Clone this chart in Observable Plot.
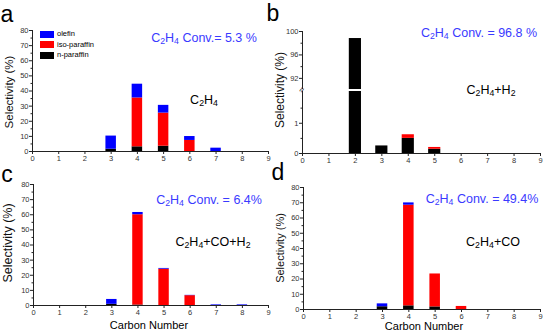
<!DOCTYPE html>
<html><head><meta charset="utf-8">
<script src="https://cdn.jsdelivr.net/npm/d3@7"></script>
<script src="https://cdn.jsdelivr.net/npm/@observablehq/plot@0.6"></script>
<style>
body{margin:0;background:#fff;}
#root{position:relative;width:544px;height:333px;overflow:hidden;font-family:"Liberation Sans",Arial,sans-serif;background:#fff;}
.panel{position:absolute;}
.t{position:absolute;white-space:nowrap;line-height:1;width:max-content;}
.t sub{font-size:0.7em;vertical-align:-0.3em;line-height:0;}
.c{transform:translate(-50%,-50%);}
.blue{color:#3a3aff;}
.sw{display:inline-block;width:14px;height:7px;margin-right:3px;vertical-align:middle;}
</style></head><body><div id="root"></div>
<script>
// ---- data ----
const carbon = [1, 2, 3, 4, 5, 6, 7, 8];
const series = ["n-paraffin", "iso-paraffin", "olefin"];
const seriesColors = ["#000000", "#ff0000", "#0000ff"];
const legendOrder = ["olefin", "iso-paraffin", "n-paraffin"];
const xTicks = [0, 1, 2, 3, 4, 5, 6, 7, 8, 9];
const yTicks80 = [0, 10, 20, 30, 40, 50, 60, 70, 80];
const yMinor80 = [5, 15, 25, 35, 45, 55, 65, 75];
const bTicksLow = [0, 1];
const bMinorLow = [0.5, 1.5];
const bTicksHigh = [92, 96, 100];
const bMinorHigh = [94, 98];
const bLowDomain = [0, 2.05];
const bHighDomain = [90.1, 100];

// panel a: C2H4
const aN   = [0, 0, 1.5, 3.1, 3.5, 0,   0,   0];
const aIso = [0, 0, 0,  32.3, 21.9, 7.3, 0,   0];
const aOle = [0, 0, 8.7, 9.1, 5.1, 2.6, 2.2, 0];
// panel b: C2H4+H2
const bN   = [0, 98.8, 0.25, 0.5, 0.14, 0, 0, 0];
const bIso = [0, 0,    0,    0.12, 0.06, 0, 0, 0];
const bOle = [0, 0,    0,    0,    0,    0, 0, 0];
// panel c: C2H4+CO+H2
const cN   = [0, 0, 0.8, 0.3, 0,  0,   0,   0];
const cIso = [0, 0, 0,  59.7, 24, 6.5, 0,   0];
const cOle = [0, 0, 3.2, 1.5, 0.5, 0.2, 0.4, 0.4];
// panel d: C2H4+CO
const dN   = [0, 0, 1.8, 2.4, 1.7, 0, 0, 0];
const dIso = [0, 0, 0,  66,  21.6, 2, 0, 0];
const dOle = [0, 0, 1.9, 1.5, 0,  0, 0, 0];

const root = document.getElementById("root");
const FONT = '"Liberation Sans", Arial, sans-serif';
const fmt = d => String(d);

function rows(n, iso, ole) {
  const out = [];
  carbon.forEach((c, i) => {
    [n[i], iso[i], ole[i]].forEach((v, k) => { if (v > 0) out.push({c, v, s: series[k]}); });
  });
  return out;
}

function panel(cfg) {
  const data = rows(cfg.n, cfg.iso, cfg.ole);
  const hw = cfg.hw;
  const marks = [
    Plot.rect(data, Plot.stackY({x: "c", x1: d => d.c - hw, x2: d => d.c + hw, y: "v", fill: "s", clip: true})),
    Plot.ruleX([0], {stroke: "#222", strokeWidth: 1}),
    Plot.axisY({ticks: cfg.ticks, tickSize: 3, tickPadding: 1, fontSize: 7.5, label: null, tickFormat: fmt, stroke: "#222", fill: "#333"}),
    Plot.axisY({ticks: cfg.minor, tickSize: 1.5, tickFormat: () => "", label: null, stroke: "#222"})
  ];
  if (!cfg.noX) {
    marks.push(
      Plot.ruleY([cfg.yDomain[0]], {stroke: "#222", strokeWidth: 1}),
      Plot.axisX({ticks: xTicks, tickSize: 3, tickPadding: 1, fontSize: 7.5, label: null, tickFormat: fmt, stroke: "#222", fill: "#333"})
    );
  }
  const svg = Plot.plot({
    width: cfg.width, height: cfg.height,
    marginTop: cfg.m[0], marginRight: cfg.m[1], marginBottom: cfg.m[2], marginLeft: cfg.m[3],
    x: {domain: [0, 9], axis: cfg.noX ? null : undefined},
    y: {domain: cfg.yDomain},
    color: {domain: series, range: seriesColors},
    style: {fontFamily: FONT, background: "transparent", overflow: "visible"},
    marks
  });
  const wrap = document.createElement("div");
  wrap.className = "panel";
  wrap.style.left = cfg.left + "px";
  wrap.style.top = cfg.top + "px";
  wrap.appendChild(svg);
  root.appendChild(wrap);
}

panel({left: 0, top: 0, width: 272, height: 165, m: [30, 4, 14, 32], yDomain: [0, 80], ticks: yTicks80, minor: yMinor80, n: aN, iso: aIso, ole: aOle, hw: 0.2});
// panel b: broken axis drawn as two stacked plots of the same data
panel({left: 272, top: 0, width: 272, height: 89, m: [31, 4, 0, 30], yDomain: bHighDomain, ticks: bTicksHigh, minor: bMinorHigh, n: bN, iso: bIso, ole: bOle, hw: 0.23, noX: true});
panel({left: 272, top: 91, width: 272, height: 74, m: [0, 4, 12, 30], yDomain: bLowDomain, ticks: bTicksLow, minor: bMinorLow, n: bN, iso: bIso, ole: bOle, hw: 0.23});
panel({left: 0, top: 165, width: 272, height: 168, m: [19, 4, 28, 33], yDomain: [0, 80], ticks: yTicks80, minor: yMinor80, n: cN, iso: cIso, ole: cOle, hw: 0.2});
panel({left: 272, top: 165, width: 272, height: 168, m: [22, 4, 24, 31], yDomain: [0, 80], ticks: yTicks80, minor: yMinor80, n: dN, iso: dIso, ole: dOle, hw: 0.2});

function text(html, x, y, cls, size, extra) {
  const el = document.createElement("div");
  el.className = "t " + cls;
  el.style.left = x + "px";
  el.style.top = y + "px";
  el.style.fontSize = size + "px";
  if (extra) Object.assign(el.style, extra);
  el.innerHTML = html;
  root.appendChild(el);
}
const NS = "http://www.w3.org/2000/svg";
function vlabel(str, cx, cy, size) {
  const svg = document.createElementNS(NS, "svg");
  svg.setAttribute("width", 24);
  svg.setAttribute("height", 160);
  svg.style.position = "absolute";
  svg.style.left = (cx - 12) + "px";
  svg.style.top = (cy - 80) + "px";
  svg.style.overflow = "visible";
  const t = document.createElementNS(NS, "text");
  t.setAttribute("transform", "translate(12,80) rotate(-90)");
  t.setAttribute("text-anchor", "middle");
  t.setAttribute("dy", "0.35em");
  t.setAttribute("font-family", FONT);
  t.setAttribute("font-size", size);
  t.setAttribute("fill", "#111");
  t.textContent = str;
  svg.appendChild(t);
  root.appendChild(svg);
}
// panel letters
text("a", 7, 14, "c", 23);
text("b", 273, 13, "c", 23);
text("c", 7, 174, "c", 23);
text("d", 278, 172, "c", 23);
// y labels
vlabel("Selectivity\u00a0(%)", 9, 92, 11.5);
vlabel("Selectivity\u00a0(%)", 280, 90, 12);
vlabel("Selectivity\u00a0(%)", 8, 243, 12.5);
vlabel("Selectivity\u00a0(%)", 280, 248, 11);
// axis break marker on panel b
text("\u2248", 302, 90, "c", 9, {transform: "translate(-50%,-50%) rotate(-60deg)", color: "#222"});
// x labels
text("Carbon&nbsp;Number", 149, 325, "c", 11);
text("Carbon&nbsp;Number", 424, 326, "c", 11);
// conversions
text("C<sub>2</sub>H<sub>4</sub> Conv.= 5.3 %", 204, 38, "c blue", 12.5);
text("C<sub>2</sub>H<sub>4</sub> Conv. = 96.8 %", 479, 33, "c blue", 12.5);
text("C<sub>2</sub>H<sub>4</sub> Conv. = 6.4%", 209, 200, "c blue", 12.5);
text("C<sub>2</sub>H<sub>4</sub> Conv. = 49.4%", 482, 199, "c blue", 12.5);
// reaction labels
text("C<sub>2</sub>H<sub>4</sub>", 204, 100, "c", 12.5);
text("C<sub>2</sub>H<sub>4</sub>+H<sub>2</sub>", 491, 90, "c", 12.5);
text("C<sub>2</sub>H<sub>4</sub>+CO+H<sub>2</sub>", 213, 242, "c", 12.5);
text("C<sub>2</sub>H<sub>4</sub>+CO", 493, 242, "c", 12.5);
// legend (panel a)
legendOrder.forEach((s, i) => {
  const col = seriesColors[series.indexOf(s)];
  text('<span class="sw" style="background:' + col + '"></span>' + s, 40, 30 + i * 10.5, "", 7.5);
});
</script></body></html>
